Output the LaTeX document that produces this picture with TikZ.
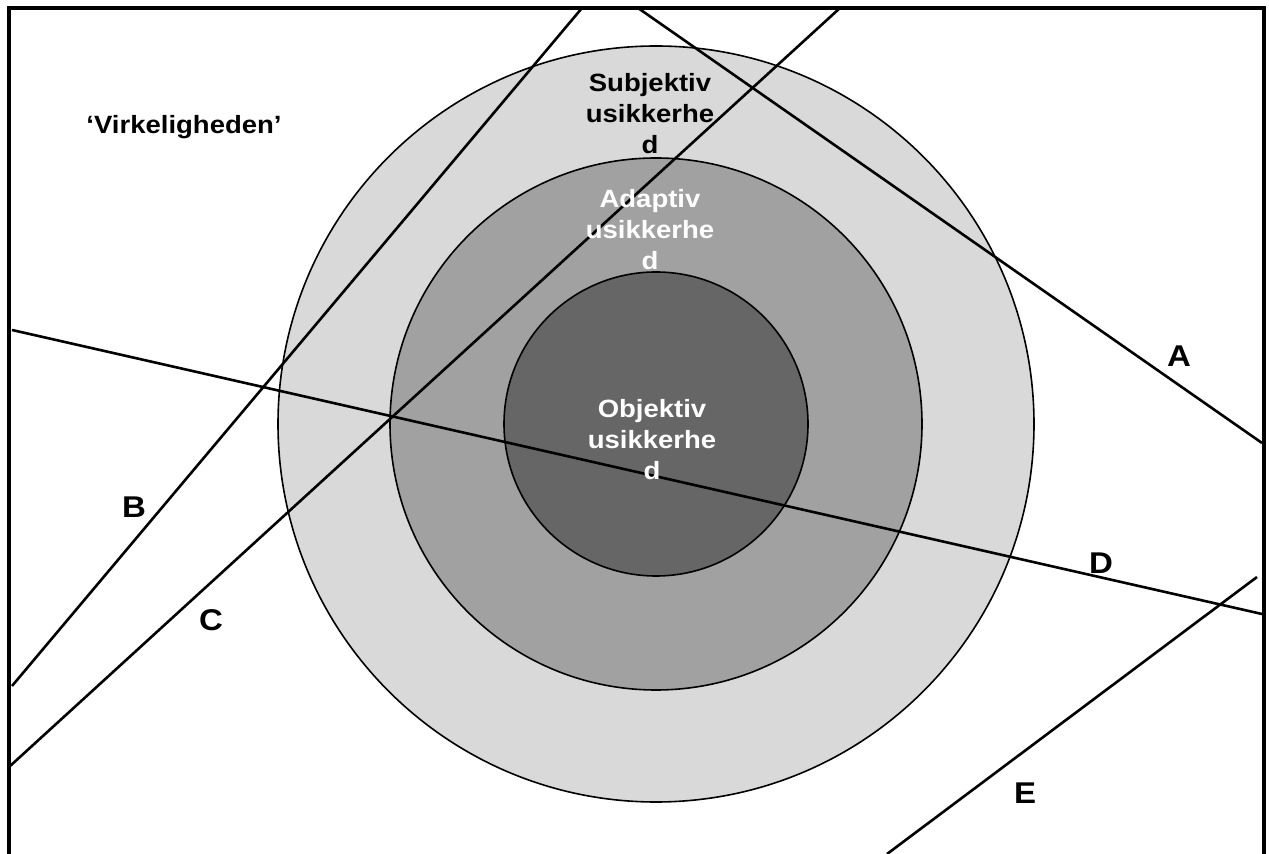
\documentclass[tikz,border=0pt]{standalone}
\usepackage{fontspec}
\setmainfont{Liberation Sans}[FakeStretch=1.1]
\usetikzlibrary{positioning}

\begin{document}
\begin{tikzpicture}[x=0.5pt, y=-0.5pt,
  ring/.style={circle, draw=black, line width=0.8pt, inner sep=0pt},
  cut/.style={line width=1.3pt},
  ringtext/.style={font=\bfseries\fontsize{12.5}{15.5}\selectfont, align=center, inner sep=0pt},
  tag/.style={font=\bfseries\fontsize{15}{17}\selectfont, inner sep=0pt}]
% Set the size of the figure
\useasboundingbox (0,0) rectangle (1269,854);

% frame
\draw[line width=1.6pt] (9,854) -- (9,8) -- (1264,8) -- (1264,854);

% the three rings
\node[ring, fill=black!15, minimum size=378pt] (outer) at (656,424) {};
\node[ring, fill=black!37, minimum size=266pt] (middle) at (656,424) {};
\node[ring, fill=black!60, minimum size=152pt] (inner) at (656,424) {};

% end points of the lines
\coordinate (a1) at (638,8);   \coordinate (a2) at (1262,443);
\coordinate (b1) at (582,8);   \coordinate (b2) at (12,686);
\coordinate (c1) at (840,8);   \coordinate (c2) at (9,767);
\coordinate (d1) at (12,330);  \coordinate (d2) at (1262,614);
\coordinate (e1) at (1257,577); \coordinate (e2) at (887,854);

\draw[cut] (a1) -- (a2);
\draw[cut] (b1) -- (b2);
\draw[cut] (c1) -- (c2);
\draw[cut] (d1) -- (d2);
\draw[cut] (e1) -- (e2);

% texts
\node[ringtext] (subj) at (650,114) {Subjektiv\\usikkerhe\\d};
\node[ringtext, text=white] (adap) at (650,230) {Adaptiv\\usikkerhe\\d};
\node[ringtext, text=white] (obj) at (652,440) {Objektiv\\usikkerhe\\d};
\node[ringtext] (virk) at (184,127) {‘Virkeligheden’};

\node[tag] (tagA) at (1179,356) {A};
\node[tag] (tagB) at (134,507) {B};
\node[tag] (tagC) at (211,620) {C};
\node[tag] (tagD) at (1101,563) {D};
\node[tag] (tagE) at (1025,793) {E};
\end{tikzpicture}
\end{document}
